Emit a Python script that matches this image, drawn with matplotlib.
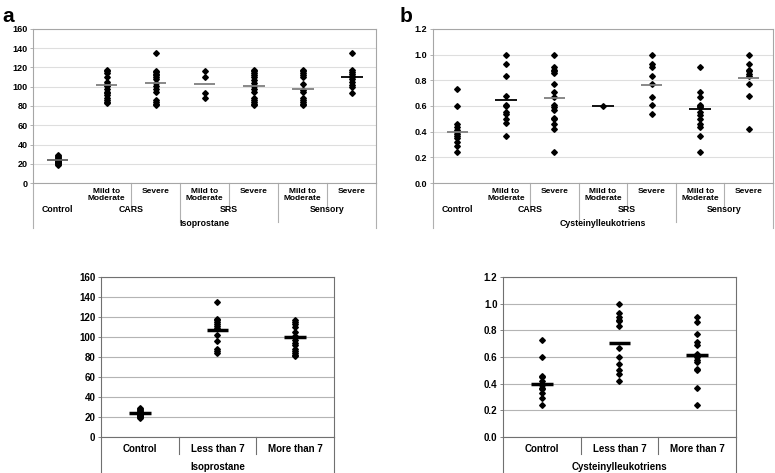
import matplotlib
matplotlib.use("Agg")
import matplotlib.pyplot as plt
import matplotlib.transforms as mtrans
from matplotlib.ticker import FormatStrFormatter

plt.rcParams['font.family'] = ['Liberation Sans', 'DejaVu Sans']
plt.rcParams['font.weight'] = 'bold'

# ---- data ----
sub_labels = ["", "Mild to\nModerate", "Severe", "Mild to\nModerate", "Severe", "Mild to\nModerate", "Severe"]
group_labels = ["Control", "CARS", "SRS", "Sensory"]
age_labels = ["Control", "Less than 7", "More than 7"]

iso_groups = [
    [19, 20, 21, 21, 22, 22, 23, 23, 24, 24, 25, 26, 27, 28, 29],
    [117, 116, 114, 110, 105, 103, 102, 101, 98, 95, 93, 91, 88, 86, 84, 83],
    [135, 116, 115, 113, 112, 110, 108, 104, 101, 98, 95, 86, 84, 82, 81],
    [116, 110, 93, 88],
    [117, 116, 114, 112, 110, 107, 104, 101, 98, 95, 88, 86, 84, 82, 81],
    [117, 116, 114, 112, 110, 103, 97, 95, 88, 86, 84, 82, 81],
    [135, 117, 115, 113, 111, 110, 108, 105, 102, 100, 93],
]
iso_centre = [23.5, 102, 104, 103, 101, 97.5, 110.5]
iso_line_col = ['#606060', '#7f7f7f', '#7f7f7f', '#7f7f7f', '#7f7f7f', '#7f7f7f', '#000000']

cys_groups = [
    [0.73, 0.60, 0.46, 0.44, 0.41, 0.40, 0.38, 0.37, 0.35, 0.32, 0.29, 0.24],
    [1.0, 0.93, 0.83, 0.68, 0.61, 0.60, 0.55, 0.54, 0.50, 0.47, 0.37],
    [1.0, 0.90, 0.88, 0.87, 0.86, 0.77, 0.71, 0.67, 0.61, 0.59, 0.57, 0.51, 0.50, 0.46, 0.42, 0.24],
    [0.60],
    [1.0, 0.93, 0.90, 0.83, 0.77, 0.67, 0.61, 0.54],
    [0.90, 0.71, 0.67, 0.61, 0.60, 0.59, 0.55, 0.53, 0.50, 0.46, 0.44, 0.37, 0.24],
    [1.0, 0.93, 0.88, 0.87, 0.85, 0.83, 0.77, 0.68, 0.42],
]
cys_centre = [0.40, 0.645, 0.665, 0.60, 0.765, 0.575, 0.815]
cys_line_col = ['#7f7f7f', '#000000', '#7f7f7f', '#000000', '#7f7f7f', '#000000', '#7f7f7f']

iso_age = [
    [19, 20, 21, 21, 22, 22, 23, 23, 24, 24, 25, 26, 27, 28, 29],
    [135, 118, 117, 115, 113, 111, 109, 102, 96, 88, 86, 84],
    [117, 115, 113, 110, 105, 101, 100, 97, 94, 92, 88, 86, 84, 82, 81],
]
iso_age_centre = [24, 106.5, 99.5]

cys_age = [
    [0.73, 0.60, 0.46, 0.45, 0.42, 0.39, 0.37, 0.36, 0.33, 0.29, 0.24],
    [1.0, 0.93, 0.90, 0.88, 0.87, 0.83, 0.67, 0.60, 0.55, 0.50, 0.47, 0.42],
    [0.90, 0.86, 0.77, 0.71, 0.69, 0.62, 0.60, 0.58, 0.56, 0.51, 0.50, 0.37, 0.24],
]
cys_age_centre = [0.40, 0.705, 0.615]

fig = plt.figure(figsize=(7.75, 4.73), dpi=100)

def scatter_panel(ax, groups, centres, colors, half, lw, ymax, ystep, fmt, grid_col, frame_col, fs):
    for i, vals in enumerate(groups):
        ax.plot([i] * len(vals), vals, 'D', color='black', markersize=2.9, zorder=3)
        ax.hlines(centres[i], i - half, i + half, colors=colors[i], linewidth=lw, zorder=4)
    ax.set_xlim(-0.5, len(groups) - 0.5)
    ax.set_ylim(0, ymax)
    n = int(round(ymax / ystep))
    ax.set_yticks([k * ystep for k in range(n + 1)])
    ax.yaxis.set_major_formatter(FormatStrFormatter(fmt))
    ax.set_xticks([])
    ax.grid(axis='y', color=grid_col, linewidth=0.8)
    ax.set_axisbelow(True)
    for s in ax.spines.values():
        s.set_color(frame_col)
        s.set_linewidth(0.8)
    ax.tick_params(axis='y', length=2, width=0.6, color=frame_col, labelsize=fs, pad=2)
    for t in ax.get_yticklabels():
        t.set_fontweight('bold')

def vline(ax, x, y0, y1, col):
    tr = mtrans.blended_transform_factory(ax.transData, ax.transAxes)
    ax.plot([x, x], [y0, y1], color=col, linewidth=0.8, transform=tr, clip_on=False)

def txt(ax, x, y, s, fs, va='center'):
    tr = mtrans.blended_transform_factory(ax.transData, ax.transAxes)
    ax.text(x, y, s, transform=tr, ha='center', va=va, fontsize=fs, fontweight='bold', linespacing=1.0)

def top_table(ax, title, col):
    # sub-category row
    for i in range(1, 7):
        txt(ax, i, -0.03, sub_labels[i], 6, va='top')
    for x in [1.5, 3.5, 5.5]:
        vline(ax, x, 0, -0.156, col)
    for x in [2.5, 4.5]:
        vline(ax, x, 0, -0.253, col)
    for x in [-0.5, 6.5]:
        vline(ax, x, 0, -0.29, col)
    txt(ax, 0, -0.17, group_labels[0], 6.3)
    for g, x in zip(group_labels[1:], [1.5, 3.5, 5.5]):
        txt(ax, x, -0.17, g, 6.3)
    txt(ax, 3, -0.26, title, 6.3)

def bottom_table(ax, title, col):
    for x in [0.5, 1.5]:
        vline(ax, x, 0, -0.106, col)
    for x in [-0.5, 2.5]:
        vline(ax, x, 0, -0.225, col)
    for i, lab in enumerate(age_labels):
        txt(ax, i, -0.075, lab, 7)
    txt(ax, 1, -0.19, title, 7)

# a: isoprostane by severity
ax1 = fig.add_axes([0.0426, 0.6131, 0.443, 0.3256])
scatter_panel(ax1, iso_groups, iso_centre, iso_line_col, 0.22, 1.3, 160, 20, '%d',
              '#dedede', '#a6a6a6', 6.5)
top_table(ax1, "Isoprostane", '#b0b0b0')

# b: cysteinylleukotriens by severity
ax2 = fig.add_axes([0.5587, 0.6131, 0.4387, 0.3256])
scatter_panel(ax2, cys_groups, cys_centre, cys_line_col, 0.22, 1.3, 1.2, 0.2, '%.1f',
              '#dedede', '#a6a6a6', 6.5)
top_table(ax2, "Cysteinylleukotriens", '#b0b0b0')

# bottom: by age
ax3 = fig.add_axes([0.1303, 0.0761, 0.3006, 0.3383])
scatter_panel(ax3, iso_age, iso_age_centre, ['black'] * 3, 0.14, 2.5, 160, 20, '%d',
              '#b4b4b4', '#707070', 7)
bottom_table(ax3, "Isoprostane", '#707070')

ax4 = fig.add_axes([0.649, 0.0761, 0.3006, 0.3383])
scatter_panel(ax4, cys_age, cys_age_centre, ['black'] * 3, 0.14, 2.5, 1.2, 0.2, '%.1f',
              '#b4b4b4', '#707070', 7)
bottom_table(ax4, "Cysteinylleukotriens", '#707070')

fig.text(0.003, 0.985, "a", fontsize=15, fontweight='bold', va='top', ha='left')
fig.text(0.516, 0.985, "b", fontsize=15, fontweight='bold', va='top', ha='left')

fig.savefig("out.png", dpi=100)
